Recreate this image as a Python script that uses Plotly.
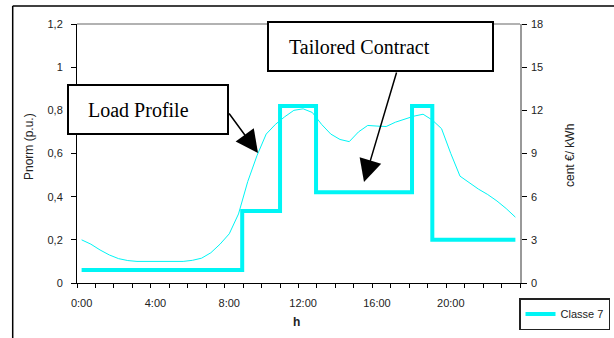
import plotly.graph_objects as go

# ---------------- data ----------------
hours = [i * 0.5 for i in range(48)]
load_profile = [0.20, 0.18, 0.153, 0.13, 0.113, 0.104, 0.10, 0.10, 0.10, 0.10,
                0.10, 0.10, 0.105, 0.115, 0.14, 0.18, 0.228, 0.32, 0.47, 0.59,
                0.69, 0.735, 0.77, 0.80, 0.807, 0.79, 0.735, 0.69, 0.665, 0.655,
                0.70, 0.73, 0.727, 0.725, 0.745, 0.76, 0.773, 0.782, 0.755, 0.715,
                0.60, 0.495, 0.465, 0.435, 0.41, 0.38, 0.345, 0.305]
price_times = [0, 8.7, 10.75, 12.7, 17.9, 19.0, 23.5]
price_values = [0.9, 5.0, 12.3, 6.3, 12.3, 3.0, 3.0]
x_tick_vals = [0, 4, 8, 12, 16, 20]
x_tick_text = ["0:00", "4:00", "8:00", "12:00", "16:00", "20:00"]
series_name = "Classe 7"

# ---------------- geometry helpers ----------------
W, H = 614, 338
L, R, T, B = 77, 520, 24, 283


def px(x):
    return (x - L) / (R - L)


def py(y):
    return (B - y) / (B - T)


CYAN = "#00F5F5"
TXT = "#222222"
SANS = "Liberation Sans, Arial, sans-serif"
SERIF = "Liberation Serif, Times New Roman, serif"

fig = go.Figure()
fig.add_trace(go.Scatter(x=hours, y=load_profile, mode="lines",
                         line=dict(color=CYAN, width=1), showlegend=False,
                         yaxis="y"))
fig.add_trace(go.Scatter(x=price_times, y=price_values, mode="lines",
                         line=dict(color=CYAN, width=4, shape="hv"),
                         name=series_name, yaxis="y2"))

shapes = [
    # top border of plot area (gray)
    dict(type="line", xref="paper", yref="paper", x0=0, x1=1, y0=1, y1=1,
         line=dict(color="#999999", width=1.5)),
    # outer frame
    dict(type="line", xref="paper", yref="paper", x0=px(12.7), x1=px(12.7),
         y0=py(6), y1=py(340), line=dict(color="black", width=1.5)),
    dict(type="line", xref="paper", yref="paper", x0=px(12.7), x1=px(616),
         y0=py(6), y1=py(6), line=dict(color="black", width=1.5)),
    # annotation boxes
    dict(type="rect", xref="paper", yref="paper", x0=px(68), x1=px(228),
         y0=py(134), y1=py(85), line=dict(color="black", width=2),
         fillcolor="white", layer="above"),
    dict(type="rect", xref="paper", yref="paper", x0=px(268), x1=px(493),
         y0=py(71), y1=py(22), line=dict(color="black", width=2),
         fillcolor="white", layer="above"),
]

annotations = [
    dict(text="Load Profile", xref="paper", yref="paper", x=px(86), y=py(110),
         xanchor="left", yanchor="middle", showarrow=False,
         font=dict(family=SERIF, size=20, color="black")),
    dict(text="Tailored Contract", xref="paper", yref="paper", x=px(287), y=py(47),
         xanchor="left", yanchor="middle", showarrow=False,
         font=dict(family=SERIF, size=20, color="black")),
    dict(text="", xref="paper", yref="paper", x=px(258), y=py(153),
         ax=-30, ay=-41, showarrow=True, arrowhead=2, arrowsize=3,
         arrowwidth=1.5, arrowcolor="black", standoff=0),
    dict(text="", xref="paper", yref="paper", x=px(364), y=py(182),
         ax=33, ay=-111, showarrow=True, arrowhead=2, arrowsize=3,
         arrowwidth=1.5, arrowcolor="black", standoff=0),
    # axis titles
    dict(text="Pnorm (p.u.)", xref="paper", yref="paper", x=px(29), y=py(147),
         textangle=-90, showarrow=False, xanchor="center", yanchor="middle",
         font=dict(family=SANS, size=12, color=TXT)),
    dict(text="cent €/ kWh", xref="paper", yref="paper", x=px(570), y=py(156),
         textangle=-90, showarrow=False, xanchor="center", yanchor="middle",
         font=dict(family=SANS, size=12, color=TXT)),
    dict(text="<b>h</b>", xref="paper", yref="paper", x=px(296.5), y=py(322),
         showarrow=False, xanchor="center", yanchor="middle",
         font=dict(family=SANS, size=12, color=TXT)),
]

fig.update_layout(
    width=W, height=H,
    margin=dict(l=L, r=W - R, t=T, b=H - B, pad=0, autoexpand=False),
    paper_bgcolor="white", plot_bgcolor="white",
    separators=", ",
    font=dict(family=SANS, size=11, color=TXT),
    xaxis=dict(range=[-0.25, 23.75], showgrid=False, zeroline=False,
               automargin=False,
               showline=True, linecolor="black", linewidth=1,
               tickmode="array", tickvals=x_tick_vals, ticktext=x_tick_text,
               ticks="outside", ticklen=4, tickcolor="rgba(0,0,0,0)",
               ticklabelstandoff=6,
               minor=dict(ticks="outside", ticklen=4, tickcolor="black",
                          tickmode="array",
                          tickvals=[-0.25 + k for k in range(25)]),
               tickfont=dict(size=11, color=TXT)),
    yaxis=dict(range=[0, 1.2], dtick=0.2, tick0=0, showgrid=False,
               automargin=False,
               zeroline=False, showline=True, linecolor="black", linewidth=1,
               ticks="outside", ticklen=5, tickcolor="black",
               ticklabelstandoff=6, tickfont=dict(size=11, color=TXT)),
    yaxis2=dict(range=[0, 18], dtick=3, tick0=0, overlaying="y", side="right",
                automargin=False,
                showgrid=False, zeroline=False, showline=True,
                linecolor="#999999", linewidth=1.5, ticks="outside",
                ticklen=5, tickcolor="black", ticklabelstandoff=2,
                tickfont=dict(size=11, color=TXT)),
    legend=dict(xref="container", yref="container", x=519 / W, y=1 - 298 / H,
                xanchor="left", yanchor="top",
                bordercolor="#222222", borderwidth=1.5, bgcolor="white",
                font=dict(size=11, color=TXT), itemwidth=30),
    shapes=shapes,
    annotations=annotations,
)

fig.write_html("out.html",
               config={"displayModeBar": False},
               post_script="document.body.style.margin='0';"
                           "document.body.style.overflow='hidden';")
